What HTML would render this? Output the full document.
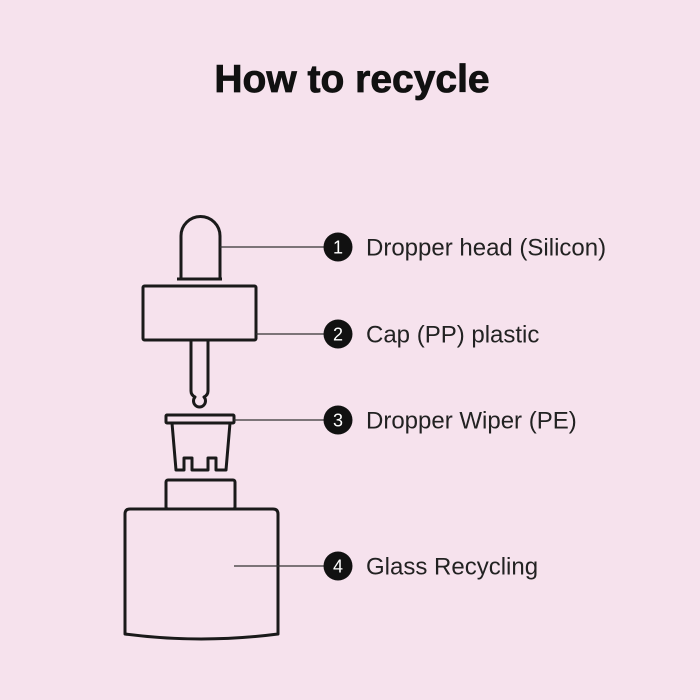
<!DOCTYPE html>
<html><head><style>
html,body{margin:0;padding:0;width:700px;height:700px;background:#f6e2ed;overflow:hidden}
</style></head><body>
<svg width="700" height="700" xmlns="http://www.w3.org/2000/svg" style="display:block">
<rect width="700" height="700" fill="#f6e2ed"/>
<text x="352" y="92" text-anchor="middle" font-family="Liberation Sans, sans-serif" font-weight="bold" font-size="39" fill="#111" stroke="#111" stroke-width="0.8">How to recycle</text>
<g fill="none" stroke="#1a1a1a" stroke-width="3" stroke-linejoin="round">
<path d="M181 279 V236 A19.5 19.5 0 0 1 220 236 V279"/>
<path d="M177 279 H222"/>
<rect x="143" y="286" width="113" height="54" rx="1.5"/>
<path d="M191 340 V391 Q191 395 195 397 A6 6 0 1 0 204 397 Q208 395 208 391 V340"/>
<rect x="166" y="415" width="68" height="8" rx="1"/>
<path d="M172 423 L176 470 H184 V458 H192 V470 H208 V458 H216 V470 H226 L230 423"/>
<rect x="166" y="480" width="69" height="29" rx="2"/>
<path d="M130 509 H273 Q278 509 278 514 V634 Q201 644 125 634 V514 Q125 509 130 509 Z"/>
</g>
<g stroke="#333" stroke-width="1.3">
<line x1="220" y1="247" x2="325" y2="247"/>
<line x1="256" y1="334" x2="325" y2="334"/>
<line x1="234" y1="420" x2="325" y2="420"/>
<line x1="234" y1="566" x2="325" y2="566"/>
</g>
<g fill="#111">
<circle cx="338" cy="247" r="14.5"/><circle cx="338" cy="334" r="14.5"/>
<circle cx="338" cy="420" r="14.5"/><circle cx="338" cy="566" r="14.5"/>
</g>
<g font-family="Liberation Sans, sans-serif" font-size="18" fill="#fff" text-anchor="middle">
<text x="338" y="253.5">1</text><text x="338" y="340.5">2</text>
<text x="338" y="426.5">3</text><text x="338" y="572.5">4</text>
</g>
<g font-family="Liberation Sans, sans-serif" font-size="24" fill="#222">
<text x="366" y="255.5">Dropper head (Silicon)</text>
<text x="366" y="342.5">Cap (PP) plastic</text>
<text x="366" y="428.5">Dropper Wiper (PE)</text>
<text x="366" y="574.5">Glass Recycling</text>
</g>
</svg>
</body></html>
